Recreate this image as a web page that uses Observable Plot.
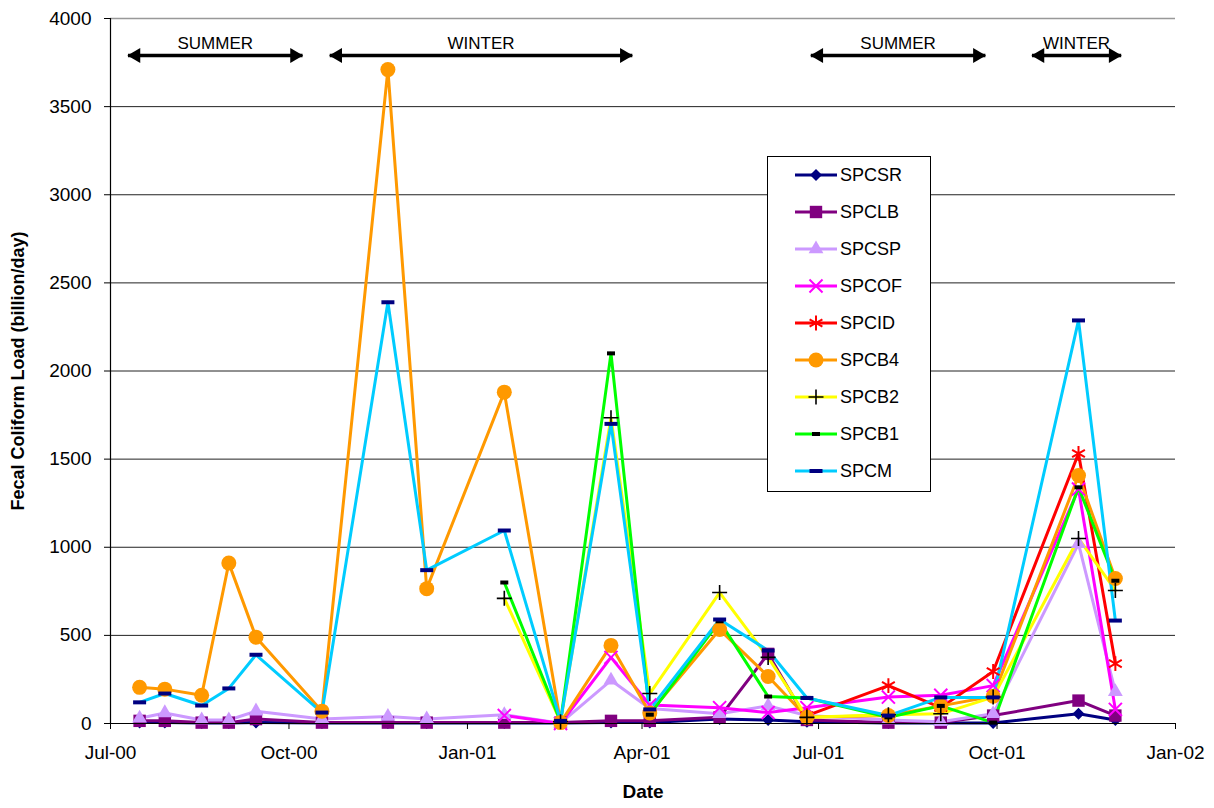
<!DOCTYPE html>
<html><head><meta charset="utf-8">
<script src="https://cdn.jsdelivr.net/npm/d3@7"></script>
<script src="https://cdn.jsdelivr.net/npm/@observablehq/plot@0.6"></script>
<style>
html,body{margin:0;padding:0;background:#fff;}
#chart{width:1214px;height:808px;position:relative;}
</style></head><body><div id="chart"></div>
<script>
// ---- data ----
const dates = ["2000-07-16","2000-07-29","2000-08-17","2000-08-31","2000-09-14","2000-10-18","2000-11-21","2000-12-11","2001-01-20","2001-02-18","2001-03-16","2001-04-05","2001-05-11","2001-06-05","2001-06-25","2001-08-06","2001-09-02","2001-09-29","2001-11-12","2001-12-01"];
const SPCSR = [5,5,3,3,5,3,3,3,3,3,5,5,25,20,10,3,3,3,55,20];
const SPCLB = [15,15,5,5,25,5,5,5,5,5,15,15,35,395,20,5,5,45,130,45];
const SPCSP = [30,60,20,20,70,25,40,25,50,2,245,85,55,100,45,20,10,55,1020,180];
const SPCOF = [null,null,null,null,null,null,null,null,45,0,375,105,90,62,90,150,160,215,1330,80];
const SPCID = [null,null,null,null,null,null,null,null,null,null,null,null,null,null,45,215,90,295,1532,340];
const SPCB4 = [205,195,160,910,490,70,3710,765,1880,5,443,60,533,267,35,45,100,155,1407,823];
const SPCB2 = [null,null,null,null,null,null,null,null,710,10,1735,170,743,375,35,50,55,150,1050,755];
const SPCB1 = [null,null,null,null,null,null,null,null,800,10,2100,50,580,153,145,35,100,5,1340,810];
const SPCM  = [120,170,102,199,390,62,2390,870,1095,15,1700,80,590,414,145,45,148,148,2287,584];

const seriesNames = ["SPCSR","SPCLB","SPCSP","SPCOF","SPCID","SPCB4","SPCB2","SPCB1","SPCM"];
const seriesValues = [SPCSR,SPCLB,SPCSP,SPCOF,SPCID,SPCB4,SPCB2,SPCB1,SPCM];
const lineColors = ["#000080","#800080","#CC99FF","#FF00FF","#FF0000","#FF9900","#FFFF00","#00FF00","#00CCFF"];

const xTicks = ["2000-07-01","2000-10-01","2001-01-01","2001-04-01","2001-07-01","2001-10-01","2002-01-01"];
const xTickLabels = ["Jul-00","Oct-00","Jan-01","Apr-01","Jul-01","Oct-01","Jan-02"];
const yTicks = [0,500,1000,1500,2000,2500,3000,3500,4000];

const seasonLabels = ["SUMMER","WINTER","SUMMER","WINTER"];
const seasonStart = ["2000-07-10","2000-10-22","2001-06-27","2001-10-19"];
const seasonEnd   = ["2000-10-08","2001-03-27","2001-09-25","2001-12-04"];
const seasonLevel = 3790;

// ---- helpers ----
const P = s => new Date(s + "T00:00:00Z");
const FONT = "'Liberation Sans', Arial, sans-serif";
const dashWide = {draw(c){c.moveTo(-6.5,-2);c.lineTo(6.5,-2);c.lineTo(6.5,2);c.lineTo(-6.5,2);c.closePath();}};
const dashShort = {draw(c){c.moveTo(-4,-2);c.lineTo(4,-2);c.lineTo(4,2);c.lineTo(-4,2);c.closePath();}};
const diamondSym = {draw(c){c.moveTo(0,-6);c.lineTo(6,0);c.lineTo(0,6);c.lineTo(-6,0);c.closePath();}};
const plusSym = {draw(c){c.moveTo(-7.5,0);c.lineTo(7.5,0);c.moveTo(0,-7.5);c.lineTo(0,7.5);}};

const markerSpec = [
  {symbol: diamondSym, r: 6, fill: "#000080", stroke: "none"},
  {symbol: "square", r: 7, fill: "#800080", stroke: "none"},
  {symbol: "triangle", r: 5.5, fill: "#CC99FF", stroke: "none"},
  {symbol: "times", r: 6, fill: "none", stroke: "#FF00FF", strokeWidth: 2},
  {symbol: "asterisk", r: 7, fill: "none", stroke: "#FF0000", strokeWidth: 2},
  {symbol: "circle", r: 7.5, fill: "#FF9900", stroke: "none"},
  {symbol: plusSym, r: 5, fill: "none", stroke: "#000000", strokeWidth: 1.6},
  {symbol: dashShort, r: 5, fill: "#000000", stroke: "none"},
  {symbol: dashWide, r: 5, fill: "#000080", stroke: "none"}
];

const rows = [];
seriesNames.forEach((name, si) => {
  seriesValues[si].forEach((v, i) => {
    if (v != null) rows.push({series: name, date: P(dates[i]), value: v});
  });
});

const seasons = seasonLabels.map((l, i) => ({label: l, start: P(seasonStart[i]), end: P(seasonEnd[i]),
  mid: new Date((P(seasonStart[i]).getTime() + P(seasonEnd[i]).getTime()) / 2)}));

const marks = [];
// grid
marks.push(Plot.ruleY(yTicks.filter(d => d > 0 && d < 4000), {stroke: "#222", strokeWidth: 1}));
marks.push(Plot.ruleY([4000], {stroke: "#999", strokeWidth: 1.5}));
// series
seriesNames.forEach((name, si) => {
  const data = rows.filter(d => d.series === name);
  marks.push(Plot.line(data, {x: "date", y: "value", stroke: lineColors[si], strokeWidth: 3}));
});
seriesNames.forEach((name, si) => {
  const data = rows.filter(d => d.series === name);
  const m = markerSpec[si];
  marks.push(Plot.dot(data, {x: "date", y: "value", symbol: m.symbol, r: m.r, fill: m.fill, stroke: m.stroke, strokeWidth: m.strokeWidth || 1}));
});
// season arrows
marks.push(Plot.link(seasons, {x1: "start", x2: "end", y1: seasonLevel, y2: seasonLevel, stroke: "#000", strokeWidth: 3.5}));
marks.push(Plot.dot(seasons, {x: "start", y: seasonLevel, symbol: "triangle", r: 5.5, rotate: -90, dx: 8, fill: "#000", stroke: "none"}));
marks.push(Plot.dot(seasons, {x: "end", y: seasonLevel, symbol: "triangle", r: 5.5, rotate: 90, dx: -8, fill: "#000", stroke: "none"}));
marks.push(Plot.text(seasons, {x: "mid", y: seasonLevel, text: "label", dy: -12, fontSize: 17, fill: "#000", fontFamily: FONT}));
// axes
marks.push(Plot.axisY(yTicks, {tickSize: 6, tickPadding: 13, fontSize: 19, label: null, stroke: "#000", fill: "#000", fontFamily: FONT, tickFormat: d => String(d)}));
marks.push(Plot.axisX(xTicks.map(P), {tickSize: 6, tickPadding: 16, fontSize: 19, label: null, stroke: "#000", fill: "#000", fontFamily: FONT,
  tickFormat: d => xTickLabels[xTicks.findIndex(t => P(t).getTime() === d.getTime())]}));
marks.push(Plot.ruleY([0], {stroke: "#000", strokeWidth: 1.2}));
marks.push(Plot.ruleX([P("2000-07-01")], {stroke: "#000", strokeWidth: 1.2}));
// axis titles
marks.push(Plot.text(["Fecal Coliform Load (billion/day)"], {frameAnchor: "left", textAnchor: "middle", dx: -92, rotate: -90, text: d => d, fontSize: 18, fontWeight: "bold", fill: "#000", fontFamily: FONT}));
marks.push(Plot.text(["Date"], {frameAnchor: "bottom", dy: 74, text: d => d, fontSize: 19, fontWeight: "bold", fill: "#000", fontFamily: FONT}));

const plot = Plot.plot({
  width: 1214, height: 808,
  marginLeft: 110, marginRight: 39, marginTop: 18, marginBottom: 85,
  x: {type: "utc", domain: [P("2000-07-01"), P("2002-01-01")]},
  y: {domain: [0, 4000]},
  style: {fontFamily: FONT, background: "#fff", overflow: "visible"},
  marks
});
document.getElementById("chart").appendChild(plot);

// legend
const svg = d3.select(plot);
const lg = svg.append("g").attr("text-anchor", "start");
lg.append("rect").attr("x", 767.5).attr("y", 156.5).attr("width", 163).attr("height", 335).attr("fill", "#fff").attr("stroke", "#000").attr("stroke-width", 1);
const symMap = {square: d3.symbolSquare, triangle: d3.symbolTriangle, times: d3.symbolTimes, asterisk: d3.symbolAsterisk, circle: d3.symbolCircle, plus: d3.symbolPlus};
seriesNames.forEach((name, i) => {
  const y = 175 + i * 37;
  lg.append("line").attr("x1", 795).attr("x2", 837).attr("y1", y).attr("y2", y).attr("stroke", lineColors[i]).attr("stroke-width", 3);
  const m = markerSpec[i];
  const type = typeof m.symbol === "string" ? symMap[m.symbol] : m.symbol;
  lg.append("path").attr("d", d3.symbol(type, Math.PI * m.r * m.r)()).attr("transform", `translate(816,${y})`)
    .attr("fill", m.fill).attr("stroke", m.stroke).attr("stroke-width", m.strokeWidth || 1);
  lg.append("text").attr("x", 840).attr("y", y).attr("dy", "0.36em").attr("text-anchor", "start").attr("font-size", 18).attr("font-family", FONT).attr("fill", "#000").text(name);
});
</script>
</body></html>
